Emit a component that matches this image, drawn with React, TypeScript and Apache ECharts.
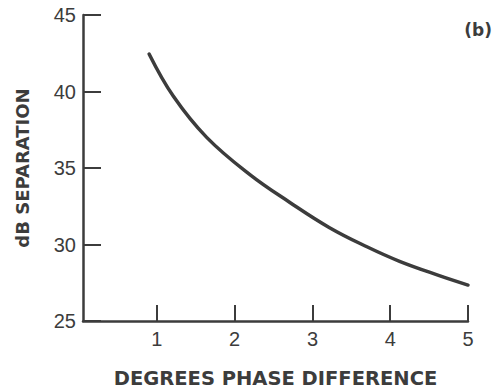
import React, { useEffect, useRef } from "react";
import * as echarts from "echarts";

const xValues = [0.9, 1.21, 1.64, 2.2, 2.71, 3.22, 3.7, 4.12, 4.64, 5.0];
const yValues = [42.45, 39.7, 37.0, 34.55, 32.75, 31.1, 29.85, 28.9, 27.95, 27.35];
const xTicks = [1, 2, 3, 4, 5];
const xAxisName = "DEGREES PHASE DIFFERENCE";
const yAxisName = "dB SEPARATION";
const panelLabel = "(b)";

const INK = "#3c3c3c";
const FONT = "Liberation Sans, Arial, Helvetica, sans-serif";
const BOLD_FONT = "DejaVu Sans, Liberation Sans, sans-serif";

export default function App() {
  const ref = useRef<HTMLDivElement>(null);
  useEffect(() => {
    if (!ref.current) return;
    const chart = echarts.init(ref.current, undefined, { renderer: "svg" });
    chart.setOption({
      animation: false,
      backgroundColor: "#ffffff",
      grid: { left: 83, right: 25, top: 15, bottom: 68, containLabel: false, outerBoundsMode: "none" },
      graphic: [
        {
          type: "text",
          right: 1,
          top: 21,
          style: { text: panelLabel, fill: INK, font: `bold 17px ${BOLD_FONT}` },
        },
      ],
      xAxis: {
        type: "value",
        min: 0.05,
        max: 5,
        name: xAxisName,
        nameLocation: "middle",
        nameGap: 47,
        nameTextStyle: { color: INK, fontFamily: BOLD_FONT, fontWeight: "bold", fontSize: 19.5 },
        axisLine: { show: true, lineStyle: { color: INK, width: 2.5 } },
        axisTick: { show: true, inside: true, length: 16, customValues: xTicks, lineStyle: { color: INK, width: 2 } },
        axisLabel: { customValues: xTicks, color: INK, fontFamily: FONT, fontSize: 20, margin: 8 },
        splitLine: { show: false },
      },
      yAxis: {
        type: "value",
        min: 25,
        max: 45,
        interval: 5,
        name: yAxisName,
        nameLocation: "middle",
        nameGap: 52,
        nameTextStyle: { color: INK, fontFamily: BOLD_FONT, fontWeight: "bold", fontSize: 18 },
        axisLine: { show: true, lineStyle: { color: INK, width: 2.5 } },
        axisTick: { show: true, inside: true, length: 18, lineStyle: { color: INK, width: 2 } },
        axisLabel: { color: INK, fontFamily: FONT, fontSize: 20, margin: 7 },
        splitLine: { show: false },
      },
      series: [
        {
          type: "line",
          data: xValues.map((x, i) => [x, yValues[i]]),
          smooth: 0.4,
          showSymbol: false,
          lineStyle: { color: INK, width: 3.5, cap: "round" },
        },
      ],
    });
    return () => chart.dispose();
  }, []);
  return <div ref={ref} style={{ width: 493, height: 389, position: "absolute", left: 0, top: 0 }} />;
}
